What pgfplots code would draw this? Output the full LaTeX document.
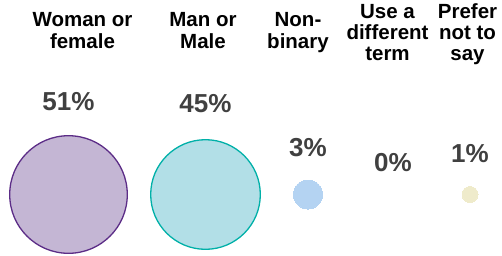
\documentclass[border=0pt]{standalone}
\usepackage{fontspec}
\setmainfont{Liberation Sans}
\usepackage{pgfplots}
\pgfplotsset{compat=1.18}
\definecolor{womanfill}{HTML}{C4B6D4}
\definecolor{womanedge}{HTML}{5C2D87}
\definecolor{manfill}{HTML}{B2DFE7}
\definecolor{manedge}{HTML}{00B0A8}
\definecolor{nbfill}{HTML}{B4D3F2}
\definecolor{prefill}{HTML}{EFEBCB}
\definecolor{pcttext}{HTML}{404040}
\begin{document}
\begin{tikzpicture}
\useasboundingbox (0,0) rectangle (502pt,255pt);
\begin{axis}[at={(0,0)}, anchor=south west, scale only axis,
  width=502pt, height=255pt, hide axis, clip=false,
  xmin=0, xmax=502, ymin=0, ymax=255, y dir=reverse,
  nodes near coords align={center},
  every node near coord/.append style={font=\fontsize{26}{28}\selectfont\bfseries, text=pcttext, anchor=base, inner sep=0pt}]
% Woman or female: 51%
\addplot[only marks, mark=*, mark size=58.8pt,
  mark options={fill=womanfill, draw=womanedge, line width=1.3pt},
  nodes near coords={51\%}, every node near coord/.append style={yshift=84.5pt}]
  coordinates {(68.5,194.5)};
% Man or Male: 45%
\addplot[only marks, mark=*, mark size=54.8pt,
  mark options={fill=manfill, draw=manedge, line width=1.3pt},
  nodes near coords={45\%}, every node near coord/.append style={yshift=82.5pt}]
  coordinates {(205.5,194.5)};
% Non-binary: 3%
\addplot[only marks, mark=*, mark size=14.5pt,
  mark options={fill=nbfill, draw=nbfill, line width=0pt},
  nodes near coords={3\%}, every node near coord/.append style={yshift=38.5pt}]
  coordinates {(308,194.5)};
% Use a different term: 0%
\addplot[only marks, mark=none, draw=none,
  nodes near coords={0\%}, every node near coord/.append style={yshift=22.8pt}]
  coordinates {(393,194.5)};
% Prefer not to say: 1%
\addplot[only marks, mark=*, mark size=8pt,
  mark options={fill=prefill, draw=prefill, line width=0pt},
  nodes near coords={1\%}, every node near coord/.append style={yshift=32.4pt}]
  coordinates {(470,194.5)};
% headers
\begin{scope}[every node/.style={font=\fontsize{20.5}{21}\selectfont\bfseries, anchor=base, inner sep=0pt}]
\node at (axis cs:82.5,26.7) {Woman or};
\node at (axis cs:82.5,48.3) {female};
\node at (axis cs:203,26.7) {Man or};
\node at (axis cs:203,48.3) {Male};
\node at (axis cs:298,26.7) {Non-};
\node at (axis cs:298,48.3) {binary};
\node at (axis cs:387.5,18.3) {Use a};
\node at (axis cs:387.5,39.3) {different};
\node at (axis cs:387.5,60) {term};
\node at (axis cs:467.5,18.3) {Prefer};
\node at (axis cs:467.5,39.3) {not to};
\node at (axis cs:467.5,60) {say};
\end{scope}
\end{axis}
\end{tikzpicture}
\end{document}
